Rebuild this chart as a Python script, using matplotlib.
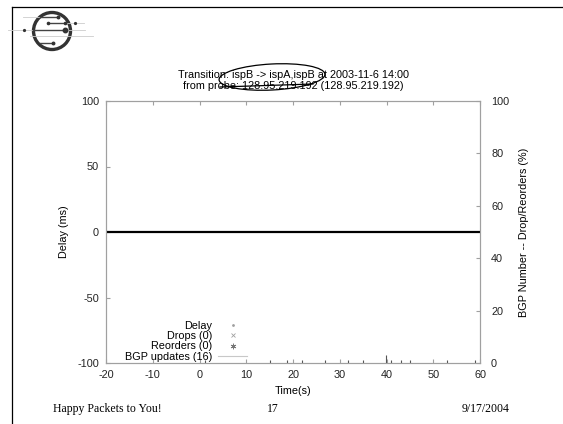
# gnuplot-style delay plot on a slide, redone in matplotlib

import numpy as np
import matplotlib
matplotlib.use('Agg')
import matplotlib.pyplot as plt
from matplotlib.patches import Circle, Ellipse

plt.rcParams['font.family'] = ['Liberation Sans', 'DejaVu Sans']
plt.rcParams['axes.unicode_minus'] = False

# Data
delay_time = [-20, 60]          # delay samples sit on 0 over the whole window
delay_ms = [0, 0]
drop_time, drop_pct = [], []    # Drops (0)
reorder_time, reorder_pct = [], []  # Reorders (0)
bgp_time = [1.2, 15.1, 18.7, 21.9, 26.8, 31.8, 35.0, 39.9, 41.0, 43.0, 45.0, 52.9, 58.9]
bgp_count = [1, 1, 1, 1, 1, 1, 1, 3, 1, 1, 1, 1, 1]

title_lines = ['Transition: ispB -> ispA,ispB at 2003-11-6 14:00',
               'from probe: 128.95.219.192 (128.95.219.192)']
footer = ['Happy Packets to You!', '17', '9/17/2004']

W, H = 563, 424
fig = plt.figure(figsize=(W / 100, H / 100), dpi=100)

# main axes, placed in pixel terms
x0, x1, y0, y1 = 106, 480, 101, 363
ax = fig.add_axes([x0 / W, 1 - y1 / H, (x1 - x0) / W, (y1 - y0) / H])
ax2 = ax.twinx()

grey = '#a0a0a0'
fs = 7.8

ax.plot(delay_time, delay_ms, color='black', lw=1.6, zorder=3)
ax.plot(drop_time, drop_pct, 'x', color=grey)
ax2.plot(reorder_time, reorder_pct, marker=(6, 2, 0), ls='', color=grey)
ax2.vlines(bgp_time, 0, bgp_count, color='#555555', lw=0.8)

ax.set_xlim(-20, 60)
ax.set_ylim(-100, 100)
ax2.set_ylim(0, 100)
ax.set_xticks(np.arange(-20, 61, 10))
ax.set_yticks(np.arange(-100, 101, 50))
ax2.set_yticks(np.arange(0, 101, 20))

for a in (ax, ax2):
    for s in a.spines.values():
        s.set_color(grey)
        s.set_linewidth(0.8)
ax.tick_params(direction='in', length=3, color=grey, labelsize=fs, top=True,
               pad=5, labelcolor='#222222')
ax2.tick_params(direction='in', length=3, color=grey, labelsize=fs, pad=8,
                labelcolor='#222222')

ax.set_xlabel('Time(s)', fontsize=fs, labelpad=4)
ax.set_ylabel('Delay (ms)', fontsize=fs, labelpad=6)
ax2.set_ylabel('BGP Number -- Drop/Reorders (%)', fontsize=fs, labelpad=7)

# gnuplot-like key: text right aligned, sample after it
h_delay, = ax.plot([], [], '.', color=grey, ms=2)
h_drop, = ax.plot([], [], 'x', color=grey, ms=3.5, mew=0.6)
h_reord, = ax.plot([], [], marker=(6, 2, 0), ls='', color='#777777', ms=4, mew=0.6)
h_bgp, = ax.plot([], [], '-', color='#c8c8c8', lw=0.8)
ax.legend([h_delay, h_drop, h_reord, h_bgp],
          ['Delay', 'Drops (0)', 'Reorders (0)', 'BGP updates (16)'],
          loc='lower right', bbox_to_anchor=(252 / W, 1 - 367 / H),
          bbox_transform=fig.transFigure, frameon=False, markerfirst=False,
          fontsize=fs, handlelength=2.6, handletextpad=0.6,
          labelspacing=0.02, borderpad=0)

# slide decoration in pixel coordinates
ov = fig.add_axes([0, 0, 1, 1], zorder=10)
ov.set_xlim(0, W)
ov.set_ylim(H, 0)
ov.axis('off')

ov.plot([12, W], [7, 7], color='black', lw=0.9)
ov.plot([12, 12], [7, H], color='black', lw=0.9)

# logo
ov.plot([8, 85], [30, 30], color='#cccccc', lw=0.6)
ov.plot([30, 93], [36, 36], color='#cccccc', lw=0.6)
ov.plot([23, 58], [17, 17], color='#cccccc', lw=0.6)
ov.plot([48, 84], [23, 23], color='#cccccc', lw=0.6)
ov.add_patch(Circle((52, 31), 18.5, fill=False, ec='#333333', lw=2.4))
for ya, xa, xb, big in [(17, 40, 58, 1.8), (23, 48, 65, 1.6), (30, 33, 65, 3.2),
                        (43, 40, 53, 1.8)]:
    ov.plot([xa, xb], [ya, ya], color='#444444', lw=1.0)
    ov.plot([xb], [ya], 'o', color='#333333', ms=big)
ov.plot([48], [23], 'o', color='#333333', ms=1.6)
ov.plot([75], [23], 'o', color='#333333', ms=1.3)
ov.plot([24], [30], 'o', color='#333333', ms=1.3)

# title
ov.text(293, 75, title_lines[0], ha='center', va='center', fontsize=fs)
ov.text(293, 86, title_lines[1], ha='center', va='center', fontsize=fs)
ov.add_patch(Ellipse((272, 77), 106, 26, angle=-3, fill=False, ec='black', lw=0.9))
ov.plot([220, 313], [87, 84], color='black', lw=0.9)

# footer
ffs = 8.5
ov.text(53, 409, footer[0], ha='left', va='center', fontsize=ffs,
        family='Liberation Serif')
ov.text(273, 409, footer[1], ha='center', va='center', fontsize=ffs,
        family='Liberation Serif')
ov.text(509, 409, footer[2], ha='right', va='center', fontsize=ffs,
        family='Liberation Serif')

fig.savefig('out.png', dpi=100)
